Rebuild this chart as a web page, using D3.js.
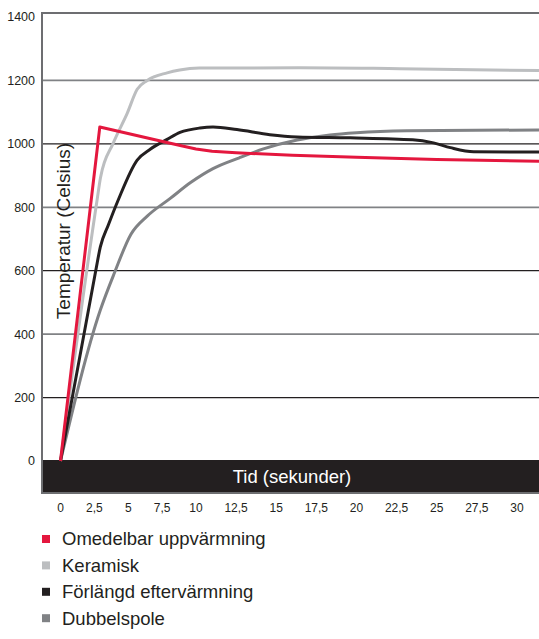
<!DOCTYPE html>
<html>
<head>
<meta charset="utf-8">
<script src="https://cdn.jsdelivr.net/npm/d3@7"></script>
<style>
  body { margin: 0; background: #fff; }
  svg { display: block; font-family: 'Liberation Sans', Arial, sans-serif; }
</style>
</head>
<body>
<svg></svg>
<script>
// tick labels
const xTicks = [0, 2.5, 5, 7.5, 10, 12.5, 15, 17.5, 20, 22.5, 25, 27.5, 30];
const yTicks = [0, 200, 400, 600, 800, 1000, 1200, 1400];

// series, [tid, temperatur]
const omedelbar = [[0, 0], [2.9, 1053], [8.1, 1002], [9, 993], [10, 984], [11, 977], [12.5, 972], [16, 964], [20, 958], [25, 951], [31.5, 945]];
const keramisk = [[0, 0], [2.7, 823], [2.95, 893], [3.9, 1003], [4.93, 1097], [5.66, 1172], [6.4, 1200], [7.87, 1224], [8.8, 1233], [10.2, 1239], [16.5, 1240], [22.7, 1237], [31.5, 1231]];
const forlangd = [[0, 0], [2.6, 600], [2.94, 675], [3.53, 744], [4.26, 823], [5.66, 949], [6.62, 983], [7.87, 1014], [8.82, 1036], [10.25, 1050], [11.06, 1053], [12.55, 1045], [14.6, 1029], [16.3, 1022], [19.6, 1019], [23.5, 1013], [24.8, 1003], [25.85, 988], [27.3, 975], [31.5, 974]];
const dubbelspole = [[0, 0], [2.94, 476], [3.97, 592], [5.2, 715], [6.4, 772], [8.1, 828], [9.6, 878], [11.06, 922], [12.7, 956], [14.2, 984], [16.3, 1012], [18.35, 1028], [20, 1035], [23.15, 1041], [31.5, 1044]];

const legendNames = ['Omedelbar uppvärmning', 'Keramisk', 'Förlängd eftervärmning', 'Dubbelspole'];
const colors = ['#e4173e', '#bcbec0', '#231f20', '#808285'];

const width = 539;
const height = 639;
const svg = d3.select('svg')
  .attr('width', width)
  .attr('height', height);

const left = 42;
const x = d3.scaleLinear().domain([0, 10, 30]).range([60.5, 196, 517]);
const y = d3.scaleLinear().domain([0, 1400]).range([461, 17]);

// gridlines
svg.append('g')
  .selectAll('line')
  .data(yTicks.filter(d => d > 0 && d < 1400))
  .enter()
  .append('line')
  .attr('x1', left)
  .attr('x2', width)
  .attr('y1', d => y(d))
  .attr('y2', d => y(d))
  .attr('stroke', d => (d / 200) % 2 === 0 ? '#808285' : '#231f20')
  .attr('stroke-width', d => (d / 200) % 2 === 0 ? 1.8 : 1.2);

// frame
svg.append('line')
  .attr('x1', left).attr('x2', width)
  .attr('y1', 13).attr('y2', 13)
  .attr('stroke', '#6d6e71').attr('stroke-width', 2);
svg.append('rect')
  .attr('x', left).attr('y', y(0) - 1)
  .attr('width', width - left).attr('height', 32)
  .attr('fill', '#231f20');
svg.append('line')
  .attr('x1', left).attr('x2', width)
  .attr('y1', y(0) + 32).attr('y2', y(0) + 32)
  .attr('stroke', '#6d6e71').attr('stroke-width', 2);
svg.append('line')
  .attr('x1', left).attr('x2', left)
  .attr('y1', 12).attr('y2', y(0) + 33)
  .attr('stroke', '#6d6e71').attr('stroke-width', 2);

// y tick labels
svg.append('g')
  .selectAll('text')
  .data(yTicks)
  .enter()
  .append('text')
  .attr('x', 35)
  .attr('y', d => y(d))
  .attr('dy', '0.35em')
  .attr('text-anchor', 'end')
  .attr('font-size', 12.5)
  .attr('fill', '#231f20')
  .text(d => d);

// x tick labels
svg.append('g')
  .selectAll('text')
  .data(xTicks)
  .enter()
  .append('text')
  .attr('x', d => x(d))
  .attr('y', 508)
  .attr('dy', '0.35em')
  .attr('text-anchor', 'middle')
  .attr('font-size', 12)
  .attr('fill', '#231f20')
  .text(d => String(d).replace('.', ','));

svg.append('text')
  .attr('x', 292)
  .attr('y', y(0) + 16)
  .attr('dy', '0.35em')
  .attr('text-anchor', 'middle')
  .attr('font-size', 18.5)
  .attr('fill', '#fff')
  .text('Tid (sekunder)');

svg.append('text')
  .attr('transform', `translate(70,231) rotate(-90)`)
  .attr('text-anchor', 'middle')
  .attr('font-size', 19)
  .attr('fill', '#231f20')
  .text('Temperatur (Celsius)');

// lines
const smooth = d3.line().x(d => x(d[0])).y(d => y(d[1])).curve(d3.curveMonotoneX);
const straight = d3.line().x(d => x(d[0])).y(d => y(d[1]));
const series = [
  { data: keramisk, color: colors[1], gen: smooth },
  { data: dubbelspole, color: colors[3], gen: smooth },
  { data: forlangd, color: colors[2], gen: smooth },
  { data: omedelbar, color: colors[0], gen: straight },
];
svg.append('g')
  .selectAll('path')
  .data(series)
  .enter()
  .append('path')
  .attr('d', d => d.gen(d.data))
  .attr('fill', 'none')
  .attr('stroke', d => d.color)
  .attr('stroke-width', 3)
  .attr('stroke-linejoin', 'round');

// legend
const legend = svg.append('g')
  .selectAll('g')
  .data(legendNames)
  .enter()
  .append('g')
  .attr('transform', (d, i) => `translate(42,${539 + i * 26.4})`);
legend.append('rect')
  .attr('x', 0).attr('y', -4)
  .attr('width', 8).attr('height', 8)
  .attr('fill', (d, i) => colors[i]);
legend.append('text')
  .attr('x', 20)
  .attr('dy', '0.35em')
  .attr('font-size', 18.5)
  .attr('fill', '#231f20')
  .text(d => d);
</script>
</body>
</html>
